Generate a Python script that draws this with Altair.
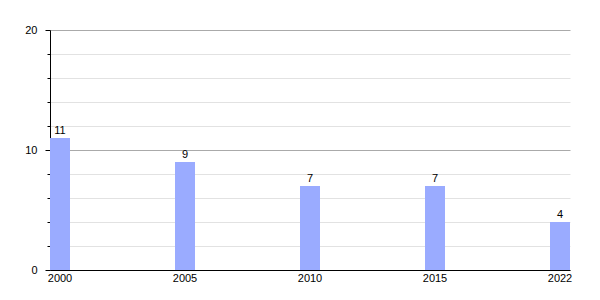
import altair as alt
import pandas as pd

years = ["2000", "2005", "2010", "2015", "2022"]
values = [11, 9, 7, 7, 4]

df = pd.DataFrame({"year": years, "value": values})

base = alt.Chart(df).encode(
    x=alt.X(
        "year:N",
        sort=years,
        scale=alt.Scale(paddingInner=0.84, paddingOuter=0, align=0),
        axis=alt.Axis(
            title=None, labelAngle=0, ticks=False, domainColor="black",
            labelColor="black", labelFontSize=11, labelPadding=2,
            labelFont="Liberation Sans", grid=False,
        ),
    ),
    y=alt.Y(
        "value:Q",
        scale=alt.Scale(domain=[0, 20], nice=False),
        axis=alt.Axis(
            title=None,
            values=list(range(0, 21, 2)),
            labelExpr="datum.value % 10 === 0 ? datum.label : ''",
            labelColor="black", labelFontSize=11, labelFont="Liberation Sans",
            labelPadding=8,
            domainColor="black",
            tickColor="black",
            tickSize={"condition": {"test": "datum.value % 10 === 0", "value": 5}, "value": 3},
            gridColor={"condition": {"test": "datum.value % 10 === 0", "value": "#aaaaaa"}, "value": "#e2e2e2"},
            grid=True,
        ),
    ),
)

bars = base.mark_bar(color="#9aabff")
text = base.mark_text(dy=-7, fontSize=11, color="black", font="Liberation Sans").encode(text="value:Q")

chart = (bars + text).properties(
    width=520, height=240,
    autosize=alt.AutoSizeParams(type="none"),
    padding={"left": 50, "top": 30, "right": 30, "bottom": 30},
).configure_view(stroke=None).configure_scale(bandPaddingInner=0.84)

chart.save("out.html", embed_options={"renderer": "svg", "actions": False})
